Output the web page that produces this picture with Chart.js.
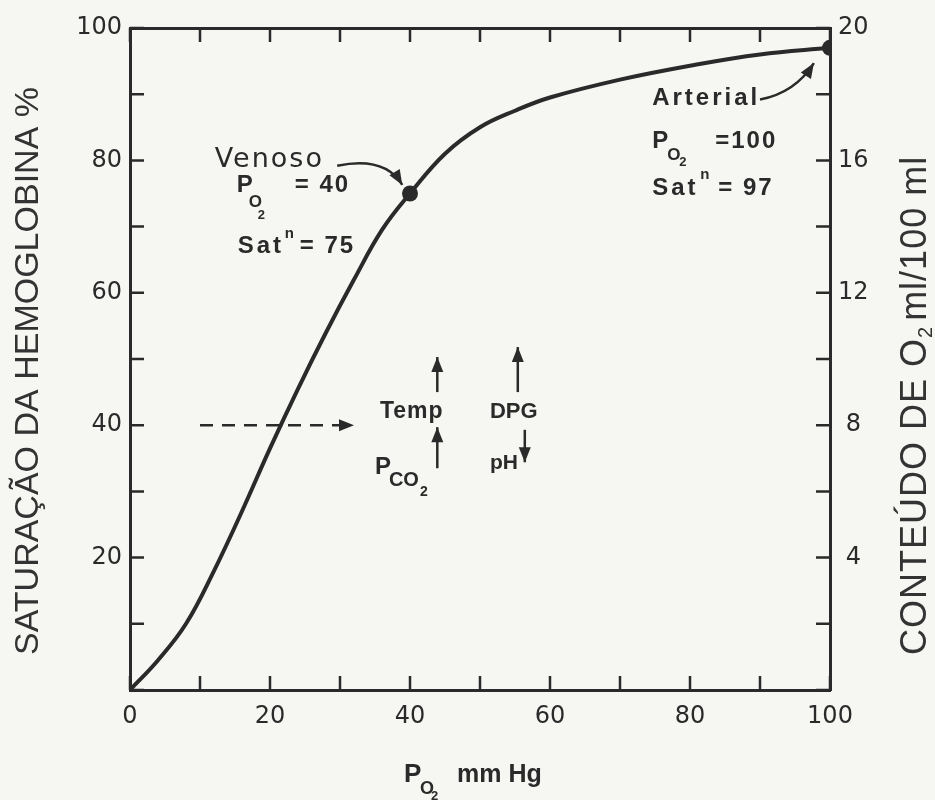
<!DOCTYPE html>
<html lang="pt">
<head>
<meta charset="UTF-8" />
<title>Curva de dissociação da oxi-hemoglobina</title>
<script src="https://cdn.jsdelivr.net/npm/chart.js"></script>
<style>
  html, body { margin: 0; padding: 0; background: #f6f6f3; }
  #box { width: 935px; height: 800px; position: relative; }
</style>
</head>
<body>
<div id="box"><canvas id="curva"></canvas></div>
<script>
  // PO2 (mm Hg) e saturação (%)
  const po2 =       [0, 4,   8,  12, 16, 20,   24,   28, 32, 36,   40, 45, 50, 55,   60,   70,   80,   90, 100];
  const saturacao = [0, 4.5, 10, 18, 27, 36.5, 45.5, 54, 62, 69.5, 75, 81, 85, 87.5, 89.5, 92.2, 94.3, 96, 97];

  // pontos venoso e arterial
  const pontoPo2 = [40, 100];
  const pontoSat = [75, 97];

  // seta tracejada em 40%
  const setaX = [10, 30];
  const setaY = [40, 40];

  // rótulos dos eixos
  const rotulosX = [0, 20, 40, 60, 80, 100];
  const rotulosEsq = [20, 40, 60, 80, 100];
  const rotulosDir = [4, 8, 12, 16, 20];

  const tinta = '#2a2a2a';
  const fonteTicks = { family: '"DejaVu Sans"', size: 24 };

  function seta(ctx, x1, y1, x2, y2) {
    const a = Math.atan2(y2 - y1, x2 - x1);
    ctx.beginPath();
    ctx.moveTo(x2, y2);
    ctx.lineTo(x2 - 15 * Math.cos(a) + 6 * Math.sin(a), y2 - 15 * Math.sin(a) - 6 * Math.cos(a));
    ctx.lineTo(x2 - 15 * Math.cos(a) - 6 * Math.sin(a), y2 - 15 * Math.sin(a) + 6 * Math.cos(a));
    ctx.closePath();
    ctx.fill();
  }

  function escreve(ctx, t, x, y, size, opt = {}) {
    ctx.font = `${opt.peso || 'bold'} ${size}px ${opt.familia || '"Liberation Sans"'}`;
    ctx.letterSpacing = (opt.ls || 0) + 'px';
    ctx.fillText(t, x, y);
    ctx.letterSpacing = '0px';
  }

  const fundo = {
    id: 'fundo',
    beforeDraw(chart) {
      const ctx = chart.ctx;
      ctx.save();
      ctx.fillStyle = '#f6f6f3';
      ctx.fillRect(0, 0, chart.width, chart.height);
      ctx.restore();
    }
  };

  // marcas de escala voltadas para dentro
  const marcas = {
    id: 'marcas',
    afterDraw(chart) {
      const ctx = chart.ctx;
      const a = chart.chartArea;
      const L = 14;
      ctx.save();
      ctx.strokeStyle = tinta;
      ctx.lineWidth = 2.5;
      ctx.beginPath();
      chart.scales.x.ticks.forEach(t => {
        const p = chart.scales.x.getPixelForValue(t.value);
        ctx.moveTo(p, a.bottom); ctx.lineTo(p, a.bottom - L);
      });
      chart.scales.x2.ticks.forEach(t => {
        const p = chart.scales.x2.getPixelForValue(t.value);
        ctx.moveTo(p, a.top); ctx.lineTo(p, a.top + L);
      });
      chart.scales.y.ticks.forEach(t => {
        const p = chart.scales.y.getPixelForValue(t.value);
        ctx.moveTo(a.left, p); ctx.lineTo(a.left + L, p);
      });
      chart.scales.y2.ticks.forEach(t => {
        const p = chart.scales.y2.getPixelForValue(t.value);
        ctx.moveTo(a.right, p); ctx.lineTo(a.right - L, p);
      });
      ctx.stroke();
      ctx.restore();
    }
  };

  const anotacoes = {
    id: 'anotacoes',
    afterDraw(chart) {
      const ctx = chart.ctx;
      const sx = v => chart.scales.x.getPixelForValue(v);
      const sy = v => chart.scales.y.getPixelForValue(v);
      ctx.save();
      ctx.fillStyle = tinta;
      ctx.strokeStyle = tinta;
      ctx.textBaseline = 'alphabetic';
      ctx.textAlign = 'left';

      // Venoso
      let x = sx(12.1), y = sy(79);
      escreve(ctx, 'Venoso', x, y, 27, { peso: 'normal', familia: '"DejaVu Sans"', ls: 2 });
      escreve(ctx, 'P', x + 22, y + 25, 24);
      escreve(ctx, 'O', x + 34, y + 40, 17);
      escreve(ctx, '2', x + 43, y + 52, 13);
      escreve(ctx, '= 40', x + 80, y + 25, 24, { ls: 2 });
      escreve(ctx, 'Sat', x + 23, y + 86, 24, { ls: 3 });
      escreve(ctx, 'n', x + 70, y + 71, 15);
      escreve(ctx, '= 75', x + 85, y + 86, 24, { ls: 2 });

      // Arterial
      x = sx(74.6); y = sy(88.4);
      escreve(ctx, 'Arterial', x, y, 24, { ls: 3 });
      escreve(ctx, 'P', x, y + 43, 24);
      escreve(ctx, 'O', x + 15, y + 55, 17);
      escreve(ctx, '2', x + 27, y + 61, 13);
      escreve(ctx, '=100', x + 63, y + 43, 24, { ls: 2 });
      escreve(ctx, 'Sat', x, y + 90, 24, { ls: 3 });
      escreve(ctx, 'n', x + 48, y + 74, 15);
      escreve(ctx, '= 97', x + 66, y + 90, 24, { ls: 2 });

      // Temp, PCO2, DPG, pH
      x = sx(35.7); y = sy(41.1);
      escreve(ctx, 'Temp', x, y, 23, { ls: 1 });
      escreve(ctx, 'P', x - 5, y + 56, 24);
      escreve(ctx, 'CO', x + 9, y + 68, 20);
      escreve(ctx, '2', x + 40, y + 78, 14);
      escreve(ctx, 'DPG', x + 110, y, 22);
      escreve(ctx, 'pH', x + 110, y + 51, 21);

      // setas retas
      ctx.lineWidth = 2.5;
      [[43.9, 45, 43.9, 50.3], [43.9, 33.5, 43.9, 39.7],
       [55.4, 45, 55.4, 51.8], [56.4, 39.3, 56.4, 34.4]].forEach(([a, b, c, d]) => {
        ctx.beginPath();
        ctx.moveTo(sx(a), sy(b)); ctx.lineTo(sx(c), sy(d));
        ctx.stroke();
        seta(ctx, sx(a), sy(b), sx(c), sy(d));
      });

      // ponta da seta tracejada
      seta(ctx, sx(setaX[0]), sy(setaY[0]), sx(32), sy(setaY[1]));

      // setas curvas
      [[29.6, 79.2, 36.4, 80.7, 38.9, 76.3], [90, 89.2, 95, 90.2, 97.7, 94.7]].forEach(([a, b, c, d, e, f]) => {
        ctx.beginPath();
        ctx.moveTo(sx(a), sy(b));
        ctx.quadraticCurveTo(sx(c), sy(d), sx(e), sy(f));
        ctx.stroke();
        seta(ctx, sx(c), sy(d), sx(e), sy(f));
      });

      // títulos dos eixos
      ctx.fillStyle = '#333';
      ctx.save();
      ctx.translate(29, 371);
      ctx.rotate(-Math.PI / 2);
      ctx.textAlign = 'center';
      ctx.textBaseline = 'middle';
      ctx.font = '34px "Liberation Sans"';
      ctx.fillText('SATURAÇÃO DA HEMOGLOBINA %', 0, 0);
      ctx.restore();

      ctx.save();
      ctx.translate(926, 655);
      ctx.rotate(-Math.PI / 2);
      ctx.textAlign = 'left';
      ctx.letterSpacing = '1px';
      ctx.font = '36px "Liberation Sans"';
      const t1 = 'CONTEÚDO DE O';
      ctx.fillText(t1, 0, 0);
      let w = ctx.measureText(t1).width;
      ctx.font = '20px "Liberation Sans"';
      ctx.fillText('2', w, 6);
      w += ctx.measureText('2').width + 5;
      ctx.font = '36px "Liberation Sans"';
      ctx.fillText('ml/100 ml', w, 0);
      ctx.letterSpacing = '0px';
      ctx.restore();

      ctx.fillStyle = tinta;
      escreve(ctx, 'P', 404, 782, 26);
      escreve(ctx, 'O', 420, 794, 18);
      escreve(ctx, '2', 431, 800, 13);
      escreve(ctx, 'mm Hg', 457, 782, 25);
      ctx.restore();
    }
  };

  const eixoBorda = { display: true, width: 3, color: tinta };
  const semGrade = { display: true, drawOnChartArea: false, drawTicks: false };

  new Chart(document.getElementById('curva'), {
    type: 'scatter',
    data: {
      datasets: [
        {
          data: po2.map((v, i) => ({ x: v, y: saturacao[i] })),
          showLine: true,
          borderColor: tinta,
          borderWidth: 4,
          pointRadius: 0,
          tension: 0.4,
          fill: false
        },
        {
          data: pontoPo2.map((v, i) => ({ x: v, y: pontoSat[i] })),
          pointRadius: 8,
          pointBackgroundColor: tinta,
          pointBorderWidth: 0,
          showLine: false
        },
        {
          data: setaX.map((v, i) => ({ x: v, y: setaY[i] })),
          showLine: true,
          borderColor: tinta,
          borderWidth: 2.5,
          borderDash: [13, 9],
          pointRadius: 0
        }
      ]
    },
    options: {
      responsive: true,
      maintainAspectRatio: false,
      animation: false,
      layout: { padding: 0 },
      plugins: { legend: { display: false }, tooltip: { enabled: false } },
      scales: {
        x: {
          type: 'linear', position: 'bottom', min: 0, max: 100,
          afterFit: s => { s.height = 110; },
          ticks: {
            stepSize: 10, autoSkip: false, maxRotation: 0, padding: 12,
            color: tinta, font: fonteTicks,
            callback: v => rotulosX.includes(v) ? v : ''
          },
          grid: semGrade, border: eixoBorda
        },
        x2: {
          type: 'linear', position: 'top', min: 0, max: 100,
          afterFit: s => { s.height = 28; },
          ticks: { stepSize: 10, display: false },
          grid: semGrade, border: eixoBorda
        },
        y: {
          type: 'linear', position: 'left', min: 0, max: 100,
          afterFit: s => { s.width = 130; },
          ticks: {
            stepSize: 10, autoSkip: false, padding: 8,
            color: tinta, font: fonteTicks,
            callback: v => rotulosEsq.includes(v) ? v : ''
          },
          grid: semGrade, border: eixoBorda
        },
        y2: {
          type: 'linear', position: 'right', min: 0, max: 20,
          afterFit: s => { s.width = 105; },
          ticks: {
            stepSize: 2, autoSkip: false, padding: 8, crossAlign: 'center',
            color: tinta, font: fonteTicks,
            callback: v => rotulosDir.includes(v) ? v : ''
          },
          grid: semGrade, border: eixoBorda
        }
      }
    },
    plugins: [fundo, marcas, anotacoes]
  });
</script>
</body>
</html>
